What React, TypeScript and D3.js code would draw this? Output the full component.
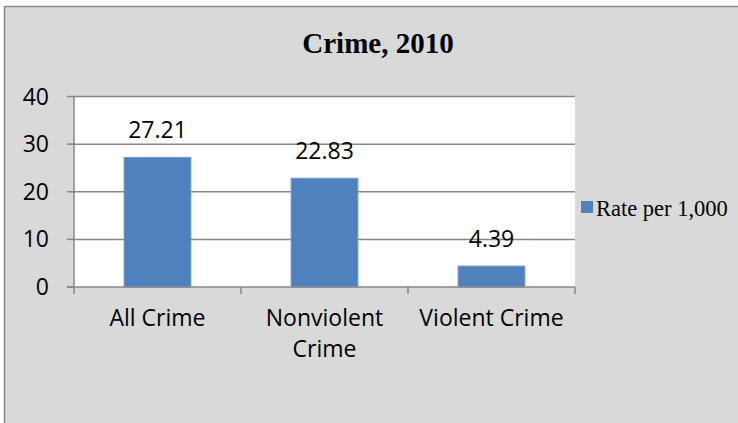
import React, { useEffect, useRef } from "react";
import * as d3 from "d3";

const categories = ["All Crime", "Nonviolent Crime", "Violent Crime"];
const values = [27.21, 22.83, 4.39];
const yTicks = [0, 10, 20, 30, 40];
const seriesName = "Rate per 1,000";
const title = "Crime, 2010";

const W = 738;
const H = 423;

export default function App() {
  const ref = useRef<SVGSVGElement | null>(null);

  useEffect(() => {
    const svg = d3.select(ref.current);
    svg.selectAll("*").remove();

    const plot = { left: 74, right: 575, top: 96.5, bottom: 287 };
    const x = d3.scaleBand<string>().domain(categories).range([plot.left, plot.right]).padding(0);
    const y = d3.scaleLinear().domain([0, 40]).range([plot.bottom, plot.top]);
    const barW = x.bandwidth() * 0.4;
    const sans = "'Open Sans', sans-serif";
    const serif = "'Liberation Serif', 'Times New Roman', serif";

    // background
    svg.append("rect").attr("x", 0).attr("y", 0).attr("width", W).attr("height", H).attr("fill", "#ffffff");
    svg.append("rect").attr("x", 4.5).attr("y", 6.5).attr("width", W + 10).attr("height", H + 10)
      .attr("fill", "#d9d9d9").attr("stroke", "#878787").attr("stroke-width", 1.5);

    // plot area
    svg.append("rect").attr("x", plot.left).attr("y", plot.top)
      .attr("width", plot.right - plot.left).attr("height", plot.bottom - plot.top).attr("fill", "#ffffff");

    // gridlines
    svg.append("g").selectAll("line").data(yTicks.filter(t => t > 0)).join("line")
      .attr("x1", plot.left).attr("x2", plot.right)
      .attr("y1", d => y(d)).attr("y2", d => y(d))
      .attr("stroke", "#878787").attr("stroke-width", 1.5);

    // y ticks & labels
    svg.append("g").selectAll("line").data(yTicks).join("line")
      .attr("x1", plot.left - 7).attr("x2", plot.left)
      .attr("y1", d => y(d)).attr("y2", d => y(d))
      .attr("stroke", "#878787").attr("stroke-width", 1.5);
    svg.append("g").selectAll("text").data(yTicks).join("text")
      .attr("x", 49).attr("y", d => y(d) + 8)
      .attr("text-anchor", "end").attr("font-family", sans).attr("font-size", 23).attr("fill", "#000")
      .text(d => String(d));

    // bars
    svg.append("g").selectAll("rect").data(values).join("rect")
      .attr("x", (d, i) => (x(categories[i]) as number) + (x.bandwidth() - barW) / 2)
      .attr("y", d => y(d))
      .attr("width", barW)
      .attr("height", d => y(0) - y(d))
      .attr("fill", "#4f81bd").attr("stroke", "#7099cc").attr("stroke-width", 1);

    // data labels
    svg.append("g").selectAll("text").data(values).join("text")
      .attr("x", (d, i) => (x(categories[i]) as number) + x.bandwidth() / 2)
      .attr("y", d => y(d) - 19)
      .attr("text-anchor", "middle").attr("font-family", sans).attr("font-size", 23).attr("fill", "#000")
      .text(d => d.toFixed(2));

    // axes lines
    svg.append("line").attr("x1", plot.left).attr("x2", plot.left).attr("y1", plot.top).attr("y2", plot.bottom)
      .attr("stroke", "#878787").attr("stroke-width", 1.5);
    svg.append("line").attr("x1", plot.left - 7).attr("x2", plot.right).attr("y1", plot.bottom).attr("y2", plot.bottom)
      .attr("stroke", "#878787").attr("stroke-width", 1.5);
    const bounds = [...categories.map(c => x(c) as number), plot.right];
    svg.append("g").selectAll("line").data(bounds).join("line")
      .attr("x1", d => d).attr("x2", d => d).attr("y1", plot.bottom).attr("y2", plot.bottom + 7)
      .attr("stroke", "#878787").attr("stroke-width", 1.5);

    // x labels with wrapping
    const xl = svg.append("g");
    categories.forEach(c => {
      const cx = (x(c) as number) + x.bandwidth() / 2;
      const t = xl.append("text").attr("x", cx).attr("y", 326).attr("text-anchor", "middle")
        .attr("font-family", sans).attr("font-size", 23).attr("fill", "#000");
      const words = c.split(" ");
      let line: string[] = [];
      let lineNo = 0;
      let tspan = t.append("tspan").attr("x", cx).attr("y", 326);
      words.forEach(w => {
        line.push(w);
        tspan.text(line.join(" "));
        const node = tspan.node() as SVGTSpanElement;
        if (node.getComputedTextLength() > x.bandwidth() - 4 && line.length > 1) {
          line.pop();
          tspan.text(line.join(" "));
          line = [w];
          lineNo++;
          tspan = t.append("tspan").attr("x", cx).attr("y", 326 + lineNo * 31).text(w);
        }
      });
    });

    // title
    svg.append("text").attr("x", 378).attr("y", 53).attr("text-anchor", "middle")
      .attr("font-family", serif).attr("font-weight", "bold").attr("font-size", 29).attr("fill", "#000")
      .text(title);

    // legend
    svg.append("rect").attr("x", 581).attr("y", 201).attr("width", 12).attr("height", 12).attr("fill", "#4f81bd");
    svg.append("text").attr("x", 596).attr("y", 216).attr("font-family", serif).attr("font-size", 22.5).attr("fill", "#000")
      .text(seriesName);
  }, []);

  return (
    <svg ref={ref} width={W} height={H}
      style={{ position: "absolute", left: 0, top: 0, display: "block" }} />
  );
}
